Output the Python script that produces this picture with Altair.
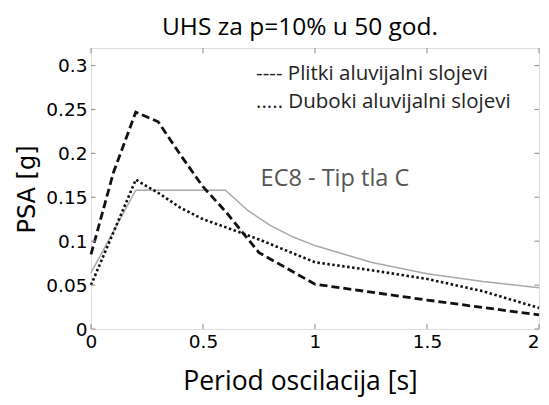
import altair as alt
import pandas as pd

# Plitki aluvijalni slojevi (dashed)
plitki_T = [0.0, 0.1, 0.2, 0.3, 0.4, 0.5, 0.6, 0.75, 1.0, 1.5, 2.0]
plitki_psa = [0.085, 0.178, 0.247, 0.236, 0.198, 0.162, 0.134, 0.087, 0.051, 0.033, 0.016]

# Duboki aluvijalni slojevi (dotted)
duboki_T = [0.0, 0.2, 0.3, 0.4, 0.5, 0.6, 0.75, 1.0, 1.25, 1.5, 1.75, 2.0]
duboki_psa = [0.050, 0.170, 0.155, 0.138, 0.125, 0.116, 0.102, 0.076, 0.067, 0.057, 0.043, 0.024]

# EC8 - Tip tla C (grey solid)
ec8_T = [0.0, 0.2, 0.6, 0.7, 0.8, 0.9, 1.0, 1.25, 1.5, 1.75, 2.0]
ec8_psa = [0.064, 0.158, 0.158, 0.135, 0.118, 0.105, 0.095, 0.076, 0.063, 0.054, 0.047]

x_ticks = [0, 0.5, 1, 1.5, 2]
y_ticks = [0, 0.05, 0.1, 0.15, 0.2, 0.25, 0.3]

legend_lines = ["---- Plitki aluvijalni slojevi", "..... Duboki aluvijalni slojevi"]
legend_x = [0.737, 0.737]
legend_y = [0.290, 0.258]
ec8_label = ["EC8 - Tip tla C"]
ec8_label_x = [1.089]
ec8_label_y = [0.171]

df = pd.concat([
    pd.DataFrame({"T": plitki_T, "PSA": plitki_psa, "s": "Plitki"}),
    pd.DataFrame({"T": duboki_T, "PSA": duboki_psa, "s": "Duboki"}),
    pd.DataFrame({"T": ec8_T, "PSA": ec8_psa, "s": "EC8"}),
])

xs = alt.Scale(domain=[0, 2], nice=False, zero=False)
ys = alt.Scale(domain=[0, 0.32], nice=False, zero=False)

xax = alt.Axis(values=x_ticks, format="~g", title="Period oscilacija [s]", grid=False, domain=False, ticks=False,
               labelFont="DejaVu Sans", labelFontSize=18.5, labelColor="black", labelPadding=3,
               labelFlush=False,
               labelAlign={"expr": "datum.value >= 2 ? 'right' : 'center'"},
               titleFont="Open Sans", titleFontSize=26.5, titleFontWeight="normal", titleColor="black",
               titleX=209, titleY=52, titleBaseline="middle", titleAlign="center")
yax = alt.Axis(values=y_ticks, format="~g", title="PSA [g]", grid=False, domain=False, ticks=False,
               labelFont="DejaVu Sans", labelFontSize=18.5, labelColor="black", labelPadding=4,
               labelFlush=False,
               titleFont="DejaVu Sans", titleFontSize=24, titleFontWeight="normal", titleColor="black",
               titleX=-64, titleY=141, titleBaseline="middle", titleAlign="center")

base = alt.Chart(df)

ec8 = base.transform_filter(alt.datum.s == "EC8").mark_line(color="#a8a8a8", strokeWidth=1.5).encode(
    x=alt.X("T:Q", scale=xs, axis=xax), y=alt.Y("PSA:Q", scale=ys, axis=yax))
plitki = base.transform_filter(alt.datum.s == "Plitki").mark_line(
    color="#111111", strokeWidth=2.8, strokeDash=[8, 4]).encode(x=alt.X("T:Q", scale=xs), y=alt.Y("PSA:Q", scale=ys))
duboki = base.transform_filter(alt.datum.s == "Duboki").mark_line(
    color="#111111", strokeWidth=2.6, strokeDash=[2.5, 2.5]).encode(x=alt.X("T:Q", scale=xs), y=alt.Y("PSA:Q", scale=ys))

leg = alt.Chart(pd.DataFrame({"t": legend_lines, "x": legend_x, "y": legend_y})).mark_text(
    align="left", baseline="middle", font="Open Sans", fontSize=20.5, color="#222222").encode(
    x=alt.X("x:Q", scale=xs), y=alt.Y("y:Q", scale=ys), text="t:N")
ec8t = alt.Chart(pd.DataFrame({"t": ec8_label, "x": ec8_label_x, "y": ec8_label_y})).mark_text(
    align="center", baseline="middle", font="Open Sans", fontSize=23.5, color="#555555").encode(
    x=alt.X("x:Q", scale=xs), y=alt.Y("y:Q", scale=ys), text="t:N")

# inward tick marks (matlab-style box)
tx = pd.DataFrame({"v": x_ticks})
ty = pd.DataFrame({"v": y_ticks})
tick_style = dict(color="#999999", strokeWidth=1.2)
xb = alt.Chart(tx).mark_rule(**tick_style).encode(x=alt.X("v:Q", scale=xs), y=alt.datum(0, scale=ys), y2=alt.datum(0.006))
xt = alt.Chart(tx).mark_rule(**tick_style).encode(x=alt.X("v:Q", scale=xs), y=alt.datum(0.314, scale=ys), y2=alt.datum(0.32))
yl = alt.Chart(ty).mark_rule(**tick_style).encode(y=alt.Y("v:Q", scale=ys), x=alt.datum(0, scale=xs), x2=alt.datum(0.02))
yr = alt.Chart(ty).mark_rule(**tick_style).encode(y=alt.Y("v:Q", scale=ys), x=alt.datum(1.98, scale=xs), x2=alt.datum(2))

chart = alt.layer(ec8, plitki, duboki, xb, xt, yl, yr, leg, ec8t).properties(
    width=448, height=281,
    title=alt.Title("UHS za p=10% u 50 god.", font="Open Sans", fontSize=24.5, fontWeight="normal",
                    color="black", anchor="middle", offset=7, dx=-15),
    autosize=alt.AutoSizeParams(type="none"),
    padding={"left": 83, "top": 40, "right": 2, "bottom": 68},
).configure_view(stroke="#999999", strokeWidth=1.5).configure(background="white")

chart.save("out.html", embed_options={"renderer": "svg", "actions": False})
